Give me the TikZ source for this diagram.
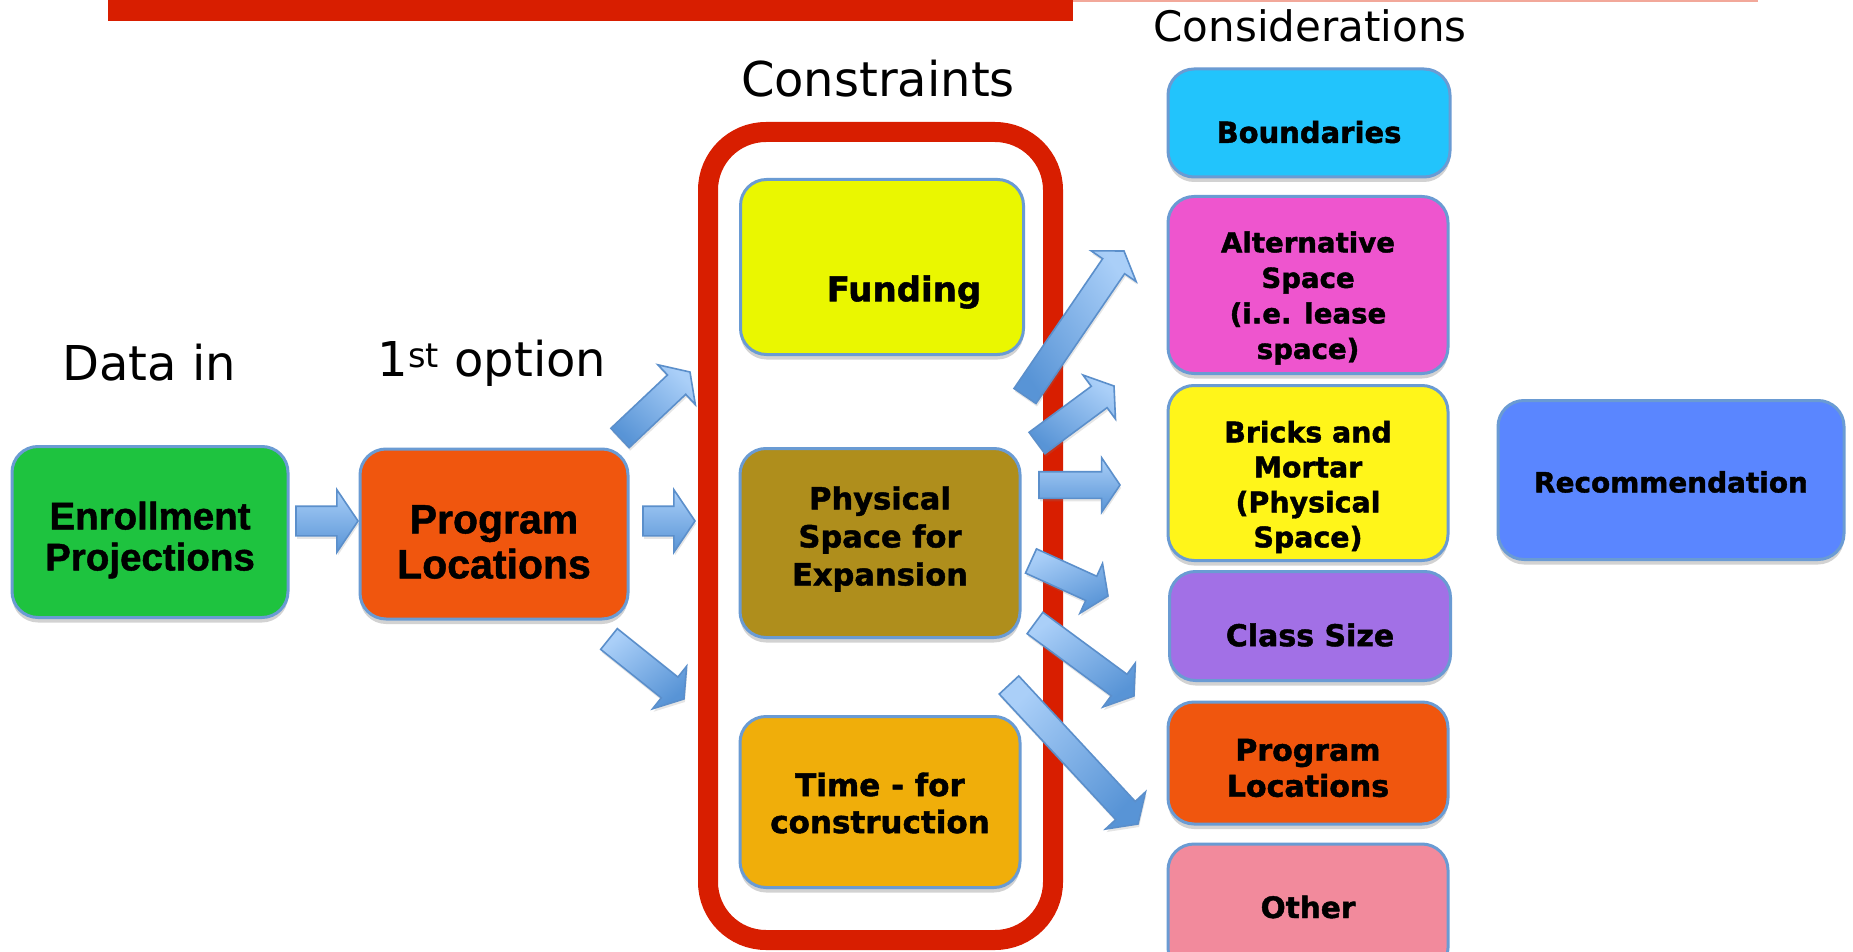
\documentclass[tikz,border=0pt]{standalone}
\usepackage{fontspec}
\setmainfont{DejaVu Sans}[BoldFeatures={FakeBold=1.5}]
\newfontfamily\arialf{Liberation Sans}[BoldFeatures={FakeBold=1.2}]
\usetikzlibrary{shapes.arrows,shadows,calc}
\definecolor{cred}{HTML}{D81E00}
\definecolor{cline}{HTML}{F2A89A}
\definecolor{bordc}{HTML}{6A9BD3}
\definecolor{arbord}{HTML}{5B8FCB}
\definecolor{cgreen}{HTML}{1EC33F}
\definecolor{corange}{HTML}{F0560E}
\definecolor{cfund}{HTML}{EAF700}
\definecolor{cphys}{HTML}{AF8E1C}
\definecolor{ctime}{HTML}{F0AE0A}
\definecolor{cbound}{HTML}{22C4FC}
\definecolor{calt}{HTML}{EE55CE}
\definecolor{cbrick}{HTML}{FFF51A}
\definecolor{cclass}{HTML}{A270E6}
\definecolor{cother}{HTML}{F28A9C}
\definecolor{crec}{HTML}{5A86FF}
\definecolor{arlight}{HTML}{AACFF8}
\definecolor{ardark}{HTML}{5894D6}
\tikzset{
  box/.style={draw=bordc, line width=3pt, rounded corners=26pt,
    inner sep=0pt,
    drop shadow={opacity=0.35, shadow xshift=0pt, shadow yshift=-5pt}},
  txt/.style={align=center, inner sep=0pt, text=black},
  heading/.style={font=\fontsize{#1}{#1}\selectfont, text=black, inner sep=0pt},
  blockarrow/.style={single arrow, draw=arbord, line width=1.6pt,
    top color=arlight, bottom color=ardark, inner xsep=1pt, inner ysep=12.5pt,
    single arrow head extend=14pt, single arrow tip angle=112, outer sep=0pt,
    drop shadow={opacity=0.2, shadow xshift=1pt, shadow yshift=-3pt}},
  bigarrow/.style={inner ysep=14pt, single arrow head extend=16.5pt}
}
\newcommand\blockarr[4][]{%
  \path let \p1=($(#4)-(#3)$), \n1={atan2(\y1,\x1)}, \n2={veclen(\x1,\y1)} in
    node[blockarrow, minimum height=\n2, rotate=\n1, shading angle=-\n1,
      anchor=tail, #1] (#2) at (#3) {};}
\begin{document}
\begin{tikzpicture}[x=1pt,y=-1pt]
\clip (0,0) rectangle (1853,952);
\fill[white] (0,0) rectangle (1853,952);
% top bar
\fill[cred] (108,0) rectangle (1073,21);
\fill[cline] (1073,0) rectangle (1758,2.5);
% headings
\node[heading=48] (hdata) at (149,363) {Data in};
\node[heading=48] (hopt) at (492,363) {1\textsuperscript{st} option};
\node[heading=48] (hcons) at (878,79) {Constraints};
\node[heading=42] (hcon) at (1310,26) {Considerations};
% constraints frame
\node[draw=cred, fill=white, line width=20pt, rounded corners=58pt, minimum width=345pt,
  minimum height=808pt, inner sep=0pt,
  drop shadow={opacity=0.25, shadow xshift=0pt, shadow yshift=-4pt}] (frame) at (880.5,536) {};
% left boxes
\node[box, fill=cgreen, minimum width=276pt, minimum height=171pt] (enr) at (150,532) {};
\node[txt, font=\arialf\bfseries\fontsize{38.5}{41}\selectfont] (enrT) at ($(enr.center)+(0,8)$) {Enrollment\\Projections};
\node[box, fill=corange, minimum width=268pt, minimum height=170pt] (ploc) at (494,534) {};
\node[txt, font=\arialf\bfseries\fontsize{41}{45}\selectfont] (plocT) at ($(ploc.center)+(0,8)$) {Program\\Locations};
% constraints
\node[box, fill=cfund, minimum width=283pt, minimum height=175pt] (fund) at (882,267) {};
\node[txt, font=\bfseries\fontsize{34}{40}\selectfont] (fundT) at ($(fund.center)+(22,25)$) {Funding};
\node[box, fill=cphys, minimum width=280pt, minimum height=189pt] (phys) at (880,543) {};
\node[txt, font=\bfseries\fontsize{30.5}{38}\selectfont] (physT) at ($(phys.center)+(0,-4)$) {Physical\\Space for\\Expansion};
\node[box, fill=ctime, minimum width=280pt, minimum height=171pt] (time) at (880,802) {};
\node[txt, font=\bfseries\fontsize{31}{37}\selectfont] (timeT) at ($(time.center)+(0,1)$) {Time - for\\construction};
% considerations
\node[box, fill=cbound, minimum width=282pt, minimum height=108pt] (bound) at (1309,123) {};
\node[txt, font=\bfseries\fontsize{29}{35}\selectfont] (boundT) at ($(bound.center)+(0,9)$) {Boundaries};
\node[box, fill=calt, minimum width=280pt, minimum height=177pt] (alt) at (1308,285) {};
\node[txt, font=\bfseries\fontsize{27.6}{35.5}\selectfont] (altT) at ($(alt.center)+(0,13)$) {Alternative\\Space\\(i.e. lease\\space)};
\node[box, fill=cbrick, minimum width=280pt, minimum height=175pt] (brick) at (1308,473) {};
\node[txt, font=\bfseries\fontsize{28.4}{35}\selectfont] (brickT) at ($(brick.center)+(0,14)$) {Bricks and\\Mortar\\(Physical\\Space)};
\node[box, fill=cclass, minimum width=281pt, minimum height=109pt] (class) at (1310,626) {};
\node[txt, font=\bfseries\fontsize{30}{36}\selectfont] (classT) at ($(class.center)+(0,9)$) {Class Size};
\node[box, fill=corange, minimum width=280pt, minimum height=122pt] (ploc2) at (1308,763) {};
\node[txt, font=\bfseries\fontsize{30}{36}\selectfont] (ploc2T) at ($(ploc2.center)+(0,5)$) {Program\\Locations};
\node[box, fill=cother, minimum width=280pt, minimum height=130pt] (other) at (1308,909) {};
\node[txt, font=\bfseries\fontsize{29.5}{36}\selectfont] (otherT) at ($(other.center)+(0,-2)$) {Other};
\node[box, fill=crec, minimum width=346pt, minimum height=159pt] (rec) at (1671,480) {};
\node[txt, font=\bfseries\fontsize{27.9}{34}\selectfont] (recT) at ($(rec.center)+(0,2)$) {Recommendation};
% arrows
\coordinate (s1) at (296,521);  \coordinate (e1) at (358,521);
\coordinate (s2) at (620,438);  \coordinate (e2) at (690,372);
\coordinate (s3) at (643,521);  \coordinate (e3) at (695,521);
\coordinate (s4) at (609,639);  \coordinate (e4) at (684,699);
\coordinate (s5) at (1025,396); \coordinate (e5) at (1124,251);
\coordinate (s6) at (1037,443); \coordinate (e6) at (1114,386);
\coordinate (s7) at (1039,485); \coordinate (e7) at (1120,485);
\coordinate (s8) at (1031,561); \coordinate (e8) at (1108,596);
\coordinate (s9) at (1035,623); \coordinate (e9) at (1134,696);
\coordinate (s10) at (1009,685); \coordinate (e10) at (1138,824);
\blockarr[bigarrow]{a1}{s1}{e1}
\blockarr{a2}{s2}{e2}
\blockarr[bigarrow]{a3}{s3}{e3}
\blockarr{a4}{s4}{e4}
\blockarr{a5}{s5}{e5}
\blockarr{a6}{s6}{e6}
\blockarr{a7}{s7}{e7}
\blockarr{a8}{s8}{e8}
\blockarr{a9}{s9}{e9}
\blockarr{a10}{s10}{e10}
\end{tikzpicture}
\end{document}
